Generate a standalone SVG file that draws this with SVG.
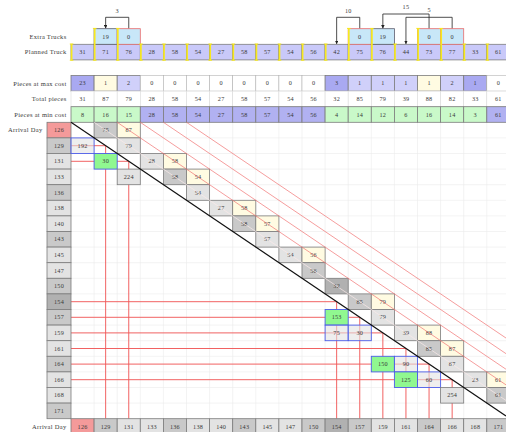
<svg xmlns="http://www.w3.org/2000/svg" width="506" height="432" viewBox="0 0 506 432">
<defs>
<marker id="ah" viewBox="0 0 6 6" refX="6" refY="3" markerWidth="3.6" markerHeight="3.6" markerUnits="userSpaceOnUse" orient="auto"><path d="M0,0 L6,3 L0,6 z" fill="#222"/></marker>
</defs>
<style>
text{font-family:"Liberation Serif","DejaVu Serif",serif;fill:#3a3a3a}
.n{font-size:6.2px;text-anchor:middle;letter-spacing:0.2px}
.lb{font-size:6.5px;text-anchor:end;letter-spacing:0.3px}
.ls{font-size:6.5px;text-anchor:start;letter-spacing:0.3px}
.c{stroke:#7c7c7c;stroke-width:0.8}
.pt{fill:#c9c9f9}
.et{fill:#c8e7f8;stroke:#5c5c6c;stroke-width:0.8}
.etr{fill:#c8e7f8;stroke:#e86a6a;stroke-width:0.8}
.w{fill:#fff;stroke:#b4b4b4;stroke-width:0.6}
.wt{fill:#fff;stroke:#dadada;stroke-width:0.6}
.pa{fill:#a9a9f1}
.pb{fill:#d0d0fa}
.cr{fill:#fffbe2}
.gn{fill:#c9f9c9}
.pp{fill:#b1b1f1}
.g1{fill:#e3e3e3}
.g2{fill:#c9c9c9}
.g3{fill:#b1b1b1}
.pk{fill:#f49a9a}
.gr{fill:#90f890}
.bx{stroke:#4c5ce8;stroke-width:0.9}
.bxg{fill:#e3e3e3;fill-opacity:0.6}
.grid line{stroke:#ebebeb;stroke-width:0.6}
.rl{fill:none;stroke:#f05a5a;stroke-width:0.95}
.ar{fill:none;stroke:#222;stroke-width:0.8}
.dl{stroke:#f07272;stroke-width:0.7}
.yb{stroke:#f7e81f;fill:none;stroke-width:1.7}
.yc{stroke:#f7e81f;fill:none;stroke-width:1}
</style>
<rect width="506" height="432" fill="#fff"/>

<g id="grid" class="grid">
<line x1="94.1" y1="122.3" x2="94.1" y2="418.7"/><line x1="117.2" y1="122.3" x2="117.2" y2="418.7"/><line x1="140.3" y1="122.3" x2="140.3" y2="418.7"/><line x1="163.4" y1="122.3" x2="163.4" y2="418.7"/><line x1="186.5" y1="122.3" x2="186.5" y2="418.7"/><line x1="209.6" y1="122.3" x2="209.6" y2="418.7"/><line x1="232.7" y1="122.3" x2="232.7" y2="418.7"/><line x1="255.8" y1="122.3" x2="255.8" y2="418.7"/><line x1="278.9" y1="122.3" x2="278.9" y2="418.7"/><line x1="302" y1="122.3" x2="302" y2="418.7"/><line x1="325.1" y1="122.3" x2="325.1" y2="418.7"/><line x1="348.2" y1="122.3" x2="348.2" y2="418.7"/><line x1="371.3" y1="122.3" x2="371.3" y2="418.7"/><line x1="394.4" y1="122.3" x2="394.4" y2="418.7"/><line x1="417.5" y1="122.3" x2="417.5" y2="418.7"/><line x1="440.6" y1="122.3" x2="440.6" y2="418.7"/><line x1="463.7" y1="122.3" x2="463.7" y2="418.7"/><line x1="486.8" y1="122.3" x2="486.8" y2="418.7"/>
<line x1="71" y1="137.9" x2="506" y2="137.9"/><line x1="71" y1="153.5" x2="506" y2="153.5"/><line x1="71" y1="169.1" x2="506" y2="169.1"/><line x1="71" y1="184.7" x2="506" y2="184.7"/><line x1="71" y1="200.3" x2="506" y2="200.3"/><line x1="71" y1="215.9" x2="506" y2="215.9"/><line x1="71" y1="231.5" x2="506" y2="231.5"/><line x1="71" y1="247.1" x2="506" y2="247.1"/><line x1="71" y1="262.7" x2="506" y2="262.7"/><line x1="71" y1="278.3" x2="506" y2="278.3"/><line x1="71" y1="293.9" x2="506" y2="293.9"/><line x1="71" y1="309.5" x2="506" y2="309.5"/><line x1="71" y1="325.1" x2="506" y2="325.1"/><line x1="71" y1="340.7" x2="506" y2="340.7"/><line x1="71" y1="356.3" x2="506" y2="356.3"/><line x1="71" y1="371.9" x2="506" y2="371.9"/><line x1="71" y1="387.5" x2="506" y2="387.5"/><line x1="71" y1="403.1" x2="506" y2="403.1"/>
</g>

<g id="labels">
<text class="lb" x="66.5" y="38.7">Extra Trucks</text>
<text class="lb" x="66.5" y="54.3">Planned Truck</text>
<text class="lb" x="66.5" y="85.5">Pieces at max cost</text>
<text class="lb" x="66.5" y="101.1">Total pieces</text>
<text class="lb" x="66.5" y="116.7">Pieces at min cost</text>
<text class="ls" x="8" y="132.3">Arrival Day</text>
<text class="lb" x="66.5" y="428.7">Arrival Day</text>
</g>

<g id="connectors">
<path class="ar" d="M128.75,28.7 V17.3 H105.65 V28.5" marker-end="url(#ah)"/>
<text class="n" x="117.2" y="12.5">3</text>
<path class="ar" d="M359.75,28.7 V17.3 H336.65 V44.1" marker-end="url(#ah)"/>
<text class="n" x="348.2" y="12.5">10</text>
<path class="ar" d="M429.05,28.7 V14 H382.85 V28.5" marker-end="url(#ah)"/>
<text class="n" x="405.9" y="9">15</text>
<path class="ar" d="M452.15,28.7 V17.3 H405.95 V44.1" marker-end="url(#ah)"/>
<text class="n" x="429.05" y="12">5</text>
<path class="rl" d="M71,145.7 H105.65 V418.7"/>
<path class="rl" d="M71,161.3 H128.75 V418.7"/>
<path class="rl" d="M71,301.7 H336.65 V418.7"/>
<path class="rl" d="M71,317.3 H359.75 V418.7"/>
<path class="rl" d="M71,332.9 H382.85 V418.7"/>
<path class="rl" d="M71,348.5 H405.95 V418.7"/>
<path class="rl" d="M71,364.1 H429.05 V418.7"/>
<path class="rl" d="M71,379.7 H452.15 V418.7"/>
</g>

<g id="planned-truck">
<g id="pt0" transform="translate(71,44.3)"><rect class="c pt" width="23.1" height="15.6"/><text class="n" x="11.55" y="9.9">31</text></g>
<g id="pt1" transform="translate(94.1,44.3)"><rect class="c pt" width="23.1" height="15.6"/><text class="n" x="11.55" y="9.9">71</text></g>
<g id="pt2" transform="translate(117.2,44.3)"><rect class="c pt" width="23.1" height="15.6"/><text class="n" x="11.55" y="9.9">76</text></g>
<g id="pt3" transform="translate(140.3,44.3)"><rect class="c pt" width="23.1" height="15.6"/><text class="n" x="11.55" y="9.9">28</text></g>
<g id="pt4" transform="translate(163.4,44.3)"><rect class="c pt" width="23.1" height="15.6"/><text class="n" x="11.55" y="9.9">58</text></g>
<g id="pt5" transform="translate(186.5,44.3)"><rect class="c pt" width="23.1" height="15.6"/><text class="n" x="11.55" y="9.9">54</text></g>
<g id="pt6" transform="translate(209.6,44.3)"><rect class="c pt" width="23.1" height="15.6"/><text class="n" x="11.55" y="9.9">27</text></g>
<g id="pt7" transform="translate(232.7,44.3)"><rect class="c pt" width="23.1" height="15.6"/><text class="n" x="11.55" y="9.9">58</text></g>
<g id="pt8" transform="translate(255.8,44.3)"><rect class="c pt" width="23.1" height="15.6"/><text class="n" x="11.55" y="9.9">57</text></g>
<g id="pt9" transform="translate(278.9,44.3)"><rect class="c pt" width="23.1" height="15.6"/><text class="n" x="11.55" y="9.9">54</text></g>
<g id="pt10" transform="translate(302,44.3)"><rect class="c pt" width="23.1" height="15.6"/><text class="n" x="11.55" y="9.9">56</text></g>
<g id="pt11" transform="translate(325.1,44.3)"><rect class="c pt" width="23.1" height="15.6"/><text class="n" x="11.55" y="9.9">42</text></g>
<g id="pt12" transform="translate(348.2,44.3)"><rect class="c pt" width="23.1" height="15.6"/><text class="n" x="11.55" y="9.9">75</text></g>
<g id="pt13" transform="translate(371.3,44.3)"><rect class="c pt" width="23.1" height="15.6"/><text class="n" x="11.55" y="9.9">76</text></g>
<g id="pt14" transform="translate(394.4,44.3)"><rect class="c pt" width="23.1" height="15.6"/><text class="n" x="11.55" y="9.9">44</text></g>
<g id="pt15" transform="translate(417.5,44.3)"><rect class="c pt" width="23.1" height="15.6"/><text class="n" x="11.55" y="9.9">73</text></g>
<g id="pt16" transform="translate(440.6,44.3)"><rect class="c pt" width="23.1" height="15.6"/><text class="n" x="11.55" y="9.9">77</text></g>
<g id="pt17" transform="translate(463.7,44.3)"><rect class="c pt" width="23.1" height="15.6"/><text class="n" x="11.55" y="9.9">33</text></g>
<g id="pt18" transform="translate(486.8,44.3)"><rect class="c pt" width="23.1" height="15.6"/><text class="n" x="11.55" y="9.9">61</text></g>
</g>

<g id="extra-trucks">
<g id="et1" transform="translate(94.1,28.7)"><rect class="et" width="23.1" height="15.6"/><text class="n" x="11.55" y="9.9">19</text></g>
<g id="et2" transform="translate(117.2,28.7)"><rect class="etr" width="23.1" height="15.6"/><text class="n" x="11.55" y="9.9">0</text></g>
<g id="et12" transform="translate(348.2,28.7)"><rect class="etr" width="23.1" height="15.6"/><text class="n" x="11.55" y="9.9">0</text></g>
<g id="et13" transform="translate(371.3,28.7)"><rect class="et" width="23.1" height="15.6"/><text class="n" x="11.55" y="9.9">19</text></g>
<g id="et15" transform="translate(417.5,28.7)"><rect class="etr" width="23.1" height="15.6"/><text class="n" x="11.55" y="9.9">0</text></g>
<g id="et16" transform="translate(440.6,28.7)"><rect class="etr" width="23.1" height="15.6"/><text class="n" x="11.55" y="9.9">0</text></g>
</g>

<g id="truck-bars">
<path class="yb" d="M71.6,44 V60.2 M94.7,28.4 V60.2 M117.8,28.4 V60.2 M140.9,44 V60.2 M164,44 V60.2 M187.1,44 V60.2 M210.2,44 V60.2 M233.3,44 V60.2 M256.4,44 V60.2 M279.5,44 V60.2 M302.6,44 V60.2 M325.7,44 V60.2 M348.8,28.4 V60.2 M371.9,28.4 V60.2 M395,44 V60.2 M418.1,28.4 V60.2 M441.2,28.4 V60.2 M464.3,44 V60.2 M487.4,44 V60.2"/>
<path class="yc" d="M69.8,44 h3.6 M69.8,60.2 h3.6 M92.9,28.4 h3.6 M92.9,60.2 h3.6 M116,28.4 h3.6 M116,60.2 h3.6 M139.1,44 h3.6 M139.1,60.2 h3.6 M162.2,44 h3.6 M162.2,60.2 h3.6 M185.3,44 h3.6 M185.3,60.2 h3.6 M208.4,44 h3.6 M208.4,60.2 h3.6 M231.5,44 h3.6 M231.5,60.2 h3.6 M254.6,44 h3.6 M254.6,60.2 h3.6 M277.7,44 h3.6 M277.7,60.2 h3.6 M300.8,44 h3.6 M300.8,60.2 h3.6 M323.9,44 h3.6 M323.9,60.2 h3.6 M347,28.4 h3.6 M347,60.2 h3.6 M370.1,28.4 h3.6 M370.1,60.2 h3.6 M393.2,44 h3.6 M393.2,60.2 h3.6 M416.3,28.4 h3.6 M416.3,60.2 h3.6 M439.4,28.4 h3.6 M439.4,60.2 h3.6 M462.5,44 h3.6 M462.5,60.2 h3.6 M485.6,44 h3.6 M485.6,60.2 h3.6"/>
</g>

<g id="pieces-max">
<g id="mx0" transform="translate(71,75.5)"><rect class="c pa" width="23.1" height="15.6"/><text class="n" x="11.55" y="9.9">23</text></g>
<g id="mx1" transform="translate(94.1,75.5)"><rect class="c cr" width="23.1" height="15.6"/><text class="n" x="11.55" y="9.9">1</text></g>
<g id="mx2" transform="translate(117.2,75.5)"><rect class="c pb" width="23.1" height="15.6"/><text class="n" x="11.55" y="9.9">2</text></g>
<g id="mx3" transform="translate(140.3,75.5)"><rect class="w" width="23.1" height="15.6"/><text class="n" x="11.55" y="9.9">0</text></g>
<g id="mx4" transform="translate(163.4,75.5)"><rect class="w" width="23.1" height="15.6"/><text class="n" x="11.55" y="9.9">0</text></g>
<g id="mx5" transform="translate(186.5,75.5)"><rect class="w" width="23.1" height="15.6"/><text class="n" x="11.55" y="9.9">0</text></g>
<g id="mx6" transform="translate(209.6,75.5)"><rect class="w" width="23.1" height="15.6"/><text class="n" x="11.55" y="9.9">0</text></g>
<g id="mx7" transform="translate(232.7,75.5)"><rect class="w" width="23.1" height="15.6"/><text class="n" x="11.55" y="9.9">0</text></g>
<g id="mx8" transform="translate(255.8,75.5)"><rect class="w" width="23.1" height="15.6"/><text class="n" x="11.55" y="9.9">0</text></g>
<g id="mx9" transform="translate(278.9,75.5)"><rect class="w" width="23.1" height="15.6"/><text class="n" x="11.55" y="9.9">0</text></g>
<g id="mx10" transform="translate(302,75.5)"><rect class="w" width="23.1" height="15.6"/><text class="n" x="11.55" y="9.9">0</text></g>
<g id="mx11" transform="translate(325.1,75.5)"><rect class="c pa" width="23.1" height="15.6"/><text class="n" x="11.55" y="9.9">3</text></g>
<g id="mx12" transform="translate(348.2,75.5)"><rect class="c pb" width="23.1" height="15.6"/><text class="n" x="11.55" y="9.9">1</text></g>
<g id="mx13" transform="translate(371.3,75.5)"><rect class="c pb" width="23.1" height="15.6"/><text class="n" x="11.55" y="9.9">1</text></g>
<g id="mx14" transform="translate(394.4,75.5)"><rect class="c pb" width="23.1" height="15.6"/><text class="n" x="11.55" y="9.9">1</text></g>
<g id="mx15" transform="translate(417.5,75.5)"><rect class="c cr" width="23.1" height="15.6"/><text class="n" x="11.55" y="9.9">1</text></g>
<g id="mx16" transform="translate(440.6,75.5)"><rect class="c pb" width="23.1" height="15.6"/><text class="n" x="11.55" y="9.9">2</text></g>
<g id="mx17" transform="translate(463.7,75.5)"><rect class="c pa" width="23.1" height="15.6"/><text class="n" x="11.55" y="9.9">1</text></g>
<g id="mx18" transform="translate(486.8,75.5)"><rect class="w" width="23.1" height="15.6"/><text class="n" x="11.55" y="9.9">0</text></g>
</g>

<g id="pieces-total">
<g id="tp0" transform="translate(71,91.1)"><rect class="wt" width="23.1" height="15.6"/><text class="n" x="11.55" y="9.9">31</text></g>
<g id="tp1" transform="translate(94.1,91.1)"><rect class="wt" width="23.1" height="15.6"/><text class="n" x="11.55" y="9.9">87</text></g>
<g id="tp2" transform="translate(117.2,91.1)"><rect class="wt" width="23.1" height="15.6"/><text class="n" x="11.55" y="9.9">79</text></g>
<g id="tp3" transform="translate(140.3,91.1)"><rect class="wt" width="23.1" height="15.6"/><text class="n" x="11.55" y="9.9">28</text></g>
<g id="tp4" transform="translate(163.4,91.1)"><rect class="wt" width="23.1" height="15.6"/><text class="n" x="11.55" y="9.9">58</text></g>
<g id="tp5" transform="translate(186.5,91.1)"><rect class="wt" width="23.1" height="15.6"/><text class="n" x="11.55" y="9.9">54</text></g>
<g id="tp6" transform="translate(209.6,91.1)"><rect class="wt" width="23.1" height="15.6"/><text class="n" x="11.55" y="9.9">27</text></g>
<g id="tp7" transform="translate(232.7,91.1)"><rect class="wt" width="23.1" height="15.6"/><text class="n" x="11.55" y="9.9">58</text></g>
<g id="tp8" transform="translate(255.8,91.1)"><rect class="wt" width="23.1" height="15.6"/><text class="n" x="11.55" y="9.9">57</text></g>
<g id="tp9" transform="translate(278.9,91.1)"><rect class="wt" width="23.1" height="15.6"/><text class="n" x="11.55" y="9.9">54</text></g>
<g id="tp10" transform="translate(302,91.1)"><rect class="wt" width="23.1" height="15.6"/><text class="n" x="11.55" y="9.9">56</text></g>
<g id="tp11" transform="translate(325.1,91.1)"><rect class="wt" width="23.1" height="15.6"/><text class="n" x="11.55" y="9.9">32</text></g>
<g id="tp12" transform="translate(348.2,91.1)"><rect class="wt" width="23.1" height="15.6"/><text class="n" x="11.55" y="9.9">85</text></g>
<g id="tp13" transform="translate(371.3,91.1)"><rect class="wt" width="23.1" height="15.6"/><text class="n" x="11.55" y="9.9">79</text></g>
<g id="tp14" transform="translate(394.4,91.1)"><rect class="wt" width="23.1" height="15.6"/><text class="n" x="11.55" y="9.9">39</text></g>
<g id="tp15" transform="translate(417.5,91.1)"><rect class="wt" width="23.1" height="15.6"/><text class="n" x="11.55" y="9.9">88</text></g>
<g id="tp16" transform="translate(440.6,91.1)"><rect class="wt" width="23.1" height="15.6"/><text class="n" x="11.55" y="9.9">82</text></g>
<g id="tp17" transform="translate(463.7,91.1)"><rect class="wt" width="23.1" height="15.6"/><text class="n" x="11.55" y="9.9">33</text></g>
<g id="tp18" transform="translate(486.8,91.1)"><rect class="wt" width="23.1" height="15.6"/><text class="n" x="11.55" y="9.9">61</text></g>
</g>

<g id="pieces-min">
<g id="mn0" transform="translate(71,106.7)"><rect class="c gn" width="23.1" height="15.6"/><text class="n" x="11.55" y="9.9">8</text></g>
<g id="mn1" transform="translate(94.1,106.7)"><rect class="c gn" width="23.1" height="15.6"/><text class="n" x="11.55" y="9.9">16</text></g>
<g id="mn2" transform="translate(117.2,106.7)"><rect class="c gn" width="23.1" height="15.6"/><text class="n" x="11.55" y="9.9">15</text></g>
<g id="mn3" transform="translate(140.3,106.7)"><rect class="c pp" width="23.1" height="15.6"/><text class="n" x="11.55" y="9.9">28</text></g>
<g id="mn4" transform="translate(163.4,106.7)"><rect class="c pp" width="23.1" height="15.6"/><text class="n" x="11.55" y="9.9">58</text></g>
<g id="mn5" transform="translate(186.5,106.7)"><rect class="c pp" width="23.1" height="15.6"/><text class="n" x="11.55" y="9.9">54</text></g>
<g id="mn6" transform="translate(209.6,106.7)"><rect class="c pp" width="23.1" height="15.6"/><text class="n" x="11.55" y="9.9">27</text></g>
<g id="mn7" transform="translate(232.7,106.7)"><rect class="c pp" width="23.1" height="15.6"/><text class="n" x="11.55" y="9.9">58</text></g>
<g id="mn8" transform="translate(255.8,106.7)"><rect class="c pp" width="23.1" height="15.6"/><text class="n" x="11.55" y="9.9">57</text></g>
<g id="mn9" transform="translate(278.9,106.7)"><rect class="c pp" width="23.1" height="15.6"/><text class="n" x="11.55" y="9.9">54</text></g>
<g id="mn10" transform="translate(302,106.7)"><rect class="c pp" width="23.1" height="15.6"/><text class="n" x="11.55" y="9.9">56</text></g>
<g id="mn11" transform="translate(325.1,106.7)"><rect class="c gn" width="23.1" height="15.6"/><text class="n" x="11.55" y="9.9">4</text></g>
<g id="mn12" transform="translate(348.2,106.7)"><rect class="c gn" width="23.1" height="15.6"/><text class="n" x="11.55" y="9.9">14</text></g>
<g id="mn13" transform="translate(371.3,106.7)"><rect class="c gn" width="23.1" height="15.6"/><text class="n" x="11.55" y="9.9">12</text></g>
<g id="mn14" transform="translate(394.4,106.7)"><rect class="c gn" width="23.1" height="15.6"/><text class="n" x="11.55" y="9.9">6</text></g>
<g id="mn15" transform="translate(417.5,106.7)"><rect class="c gn" width="23.1" height="15.6"/><text class="n" x="11.55" y="9.9">16</text></g>
<g id="mn16" transform="translate(440.6,106.7)"><rect class="c gn" width="23.1" height="15.6"/><text class="n" x="11.55" y="9.9">14</text></g>
<g id="mn17" transform="translate(463.7,106.7)"><rect class="c gn" width="23.1" height="15.6"/><text class="n" x="11.55" y="9.9">3</text></g>
<g id="mn18" transform="translate(486.8,106.7)"><rect class="c pp" width="23.1" height="15.6"/><text class="n" x="11.55" y="9.9">61</text></g>
</g>

<g id="row-days">
<g id="rd126" transform="translate(47,122.3)"><rect class="c pk" width="24" height="15.6"/><text class="n" x="12" y="9.9">126</text></g>
<g id="rd129" transform="translate(47,137.9)"><rect class="c g2" width="24" height="15.6"/><text class="n" x="12" y="9.9">129</text></g>
<g id="rd131" transform="translate(47,153.5)"><rect class="c g1" width="24" height="15.6"/><text class="n" x="12" y="9.9">131</text></g>
<g id="rd133" transform="translate(47,169.1)"><rect class="c g1" width="24" height="15.6"/><text class="n" x="12" y="9.9">133</text></g>
<g id="rd136" transform="translate(47,184.7)"><rect class="c g2" width="24" height="15.6"/><text class="n" x="12" y="9.9">136</text></g>
<g id="rd138" transform="translate(47,200.3)"><rect class="c g1" width="24" height="15.6"/><text class="n" x="12" y="9.9">138</text></g>
<g id="rd140" transform="translate(47,215.9)"><rect class="c g1" width="24" height="15.6"/><text class="n" x="12" y="9.9">140</text></g>
<g id="rd143" transform="translate(47,231.5)"><rect class="c g2" width="24" height="15.6"/><text class="n" x="12" y="9.9">143</text></g>
<g id="rd145" transform="translate(47,247.1)"><rect class="c g1" width="24" height="15.6"/><text class="n" x="12" y="9.9">145</text></g>
<g id="rd147" transform="translate(47,262.7)"><rect class="c g1" width="24" height="15.6"/><text class="n" x="12" y="9.9">147</text></g>
<g id="rd150" transform="translate(47,278.3)"><rect class="c g2" width="24" height="15.6"/><text class="n" x="12" y="9.9">150</text></g>
<g id="rd154" transform="translate(47,293.9)"><rect class="c g3" width="24" height="15.6"/><text class="n" x="12" y="9.9">154</text></g>
<g id="rd157" transform="translate(47,309.5)"><rect class="c g2" width="24" height="15.6"/><text class="n" x="12" y="9.9">157</text></g>
<g id="rd159" transform="translate(47,325.1)"><rect class="c g1" width="24" height="15.6"/><text class="n" x="12" y="9.9">159</text></g>
<g id="rd161" transform="translate(47,340.7)"><rect class="c g1" width="24" height="15.6"/><text class="n" x="12" y="9.9">161</text></g>
<g id="rd164" transform="translate(47,356.3)"><rect class="c g2" width="24" height="15.6"/><text class="n" x="12" y="9.9">164</text></g>
<g id="rd166" transform="translate(47,371.9)"><rect class="c g1" width="24" height="15.6"/><text class="n" x="12" y="9.9">166</text></g>
<g id="rd168" transform="translate(47,387.5)"><rect class="c g1" width="24" height="15.6"/><text class="n" x="12" y="9.9">168</text></g>
<g id="rd171" transform="translate(47,403.1)"><rect class="c g2" width="24" height="15.6"/><text class="n" x="12" y="9.9">171</text></g>
</g>

<g id="col-days">
<g id="cd126" transform="translate(71,418.7)"><rect class="c pk" width="23.1" height="15.6"/><text class="n" x="11.55" y="9.9">126</text></g>
<g id="cd129" transform="translate(94.1,418.7)"><rect class="c g2" width="23.1" height="15.6"/><text class="n" x="11.55" y="9.9">129</text></g>
<g id="cd131" transform="translate(117.2,418.7)"><rect class="c g1" width="23.1" height="15.6"/><text class="n" x="11.55" y="9.9">131</text></g>
<g id="cd133" transform="translate(140.3,418.7)"><rect class="c g1" width="23.1" height="15.6"/><text class="n" x="11.55" y="9.9">133</text></g>
<g id="cd136" transform="translate(163.4,418.7)"><rect class="c g2" width="23.1" height="15.6"/><text class="n" x="11.55" y="9.9">136</text></g>
<g id="cd138" transform="translate(186.5,418.7)"><rect class="c g1" width="23.1" height="15.6"/><text class="n" x="11.55" y="9.9">138</text></g>
<g id="cd140" transform="translate(209.6,418.7)"><rect class="c g1" width="23.1" height="15.6"/><text class="n" x="11.55" y="9.9">140</text></g>
<g id="cd143" transform="translate(232.7,418.7)"><rect class="c g2" width="23.1" height="15.6"/><text class="n" x="11.55" y="9.9">143</text></g>
<g id="cd145" transform="translate(255.8,418.7)"><rect class="c g1" width="23.1" height="15.6"/><text class="n" x="11.55" y="9.9">145</text></g>
<g id="cd147" transform="translate(278.9,418.7)"><rect class="c g1" width="23.1" height="15.6"/><text class="n" x="11.55" y="9.9">147</text></g>
<g id="cd150" transform="translate(302,418.7)"><rect class="c g2" width="23.1" height="15.6"/><text class="n" x="11.55" y="9.9">150</text></g>
<g id="cd154" transform="translate(325.1,418.7)"><rect class="c g3" width="23.1" height="15.6"/><text class="n" x="11.55" y="9.9">154</text></g>
<g id="cd157" transform="translate(348.2,418.7)"><rect class="c g2" width="23.1" height="15.6"/><text class="n" x="11.55" y="9.9">157</text></g>
<g id="cd159" transform="translate(371.3,418.7)"><rect class="c g1" width="23.1" height="15.6"/><text class="n" x="11.55" y="9.9">159</text></g>
<g id="cd161" transform="translate(394.4,418.7)"><rect class="c g1" width="23.1" height="15.6"/><text class="n" x="11.55" y="9.9">161</text></g>
<g id="cd164" transform="translate(417.5,418.7)"><rect class="c g2" width="23.1" height="15.6"/><text class="n" x="11.55" y="9.9">164</text></g>
<g id="cd166" transform="translate(440.6,418.7)"><rect class="c g1" width="23.1" height="15.6"/><text class="n" x="11.55" y="9.9">166</text></g>
<g id="cd168" transform="translate(463.7,418.7)"><rect class="c g1" width="23.1" height="15.6"/><text class="n" x="11.55" y="9.9">168</text></g>
<g id="cd171" transform="translate(486.8,418.7)"><rect class="c g2" width="23.1" height="15.6"/><text class="n" x="11.55" y="9.9">171</text></g>
</g>

<g id="matrix">
<g id="m0-1" transform="translate(94.1,122.3)"><rect class="c g2" width="23.1" height="15.6"/><text class="n" x="11.55" y="9.9">75</text></g>
<g id="m0-2" transform="translate(117.2,122.3)"><rect class="c cr" width="23.1" height="15.6"/><text class="n" x="11.55" y="9.9">87</text></g>
<g id="m1-0" transform="translate(71,137.9)"><rect class="c bx bxg" width="23.1" height="15.6"/><text class="n" x="11.55" y="9.9">192</text></g>
<g id="m1-2" transform="translate(117.2,137.9)"><rect class="c g1" width="23.1" height="15.6"/><text class="n" x="11.55" y="9.9">79</text></g>
<g id="m2-1" transform="translate(94.1,153.5)"><rect class="c bx gr" width="23.1" height="15.6"/><text class="n" x="11.55" y="9.9">30</text></g>
<g id="m2-3" transform="translate(140.3,153.5)"><rect class="c g1" width="23.1" height="15.6"/><text class="n" x="11.55" y="9.9">28</text></g>
<g id="m2-4" transform="translate(163.4,153.5)"><rect class="c cr" width="23.1" height="15.6"/><text class="n" x="11.55" y="9.9">58</text></g>
<g id="m3-2" transform="translate(117.2,169.1)"><rect class="c g1" width="23.1" height="15.6"/><text class="n" x="11.55" y="9.9">224</text></g>
<g id="m3-4" transform="translate(163.4,169.1)"><rect class="c g2" width="23.1" height="15.6"/><text class="n" x="11.55" y="9.9">58</text></g>
<g id="m3-5" transform="translate(186.5,169.1)"><rect class="c cr" width="23.1" height="15.6"/><text class="n" x="11.55" y="9.9">54</text></g>
<g id="m4-5" transform="translate(186.5,184.7)"><rect class="c g1" width="23.1" height="15.6"/><text class="n" x="11.55" y="9.9">54</text></g>
<g id="m5-6" transform="translate(209.6,200.3)"><rect class="c g1" width="23.1" height="15.6"/><text class="n" x="11.55" y="9.9">27</text></g>
<g id="m5-7" transform="translate(232.7,200.3)"><rect class="c cr" width="23.1" height="15.6"/><text class="n" x="11.55" y="9.9">58</text></g>
<g id="m6-7" transform="translate(232.7,215.9)"><rect class="c g2" width="23.1" height="15.6"/><text class="n" x="11.55" y="9.9">58</text></g>
<g id="m6-8" transform="translate(255.8,215.9)"><rect class="c cr" width="23.1" height="15.6"/><text class="n" x="11.55" y="9.9">57</text></g>
<g id="m7-8" transform="translate(255.8,231.5)"><rect class="c g1" width="23.1" height="15.6"/><text class="n" x="11.55" y="9.9">57</text></g>
<g id="m8-9" transform="translate(278.9,247.1)"><rect class="c g1" width="23.1" height="15.6"/><text class="n" x="11.55" y="9.9">54</text></g>
<g id="m8-10" transform="translate(302,247.1)"><rect class="c cr" width="23.1" height="15.6"/><text class="n" x="11.55" y="9.9">56</text></g>
<g id="m9-10" transform="translate(302,262.7)"><rect class="c g2" width="23.1" height="15.6"/><text class="n" x="11.55" y="9.9">56</text></g>
<g id="m10-11" transform="translate(325.1,278.3)"><rect class="c g3" width="23.1" height="15.6"/><text class="n" x="11.55" y="9.9">32</text></g>
<g id="m11-12" transform="translate(348.2,293.9)"><rect class="c g2" width="23.1" height="15.6"/><text class="n" x="11.55" y="9.9">85</text></g>
<g id="m11-13" transform="translate(371.3,293.9)"><rect class="c cr" width="23.1" height="15.6"/><text class="n" x="11.55" y="9.9">79</text></g>
<g id="m12-11" transform="translate(325.1,309.5)"><rect class="c bx gr" width="23.1" height="15.6"/><text class="n" x="11.55" y="9.9">153</text></g>
<g id="m12-13" transform="translate(371.3,309.5)"><rect class="c g1" width="23.1" height="15.6"/><text class="n" x="11.55" y="9.9">79</text></g>
<g id="m13-11" transform="translate(325.1,325.1)"><rect class="c bx bxg" width="23.1" height="15.6"/><text class="n" x="11.55" y="9.9">75</text></g>
<g id="m13-12" transform="translate(348.2,325.1)"><rect class="c bx bxg" width="23.1" height="15.6"/><text class="n" x="11.55" y="9.9">30</text></g>
<g id="m13-14" transform="translate(394.4,325.1)"><rect class="c g1" width="23.1" height="15.6"/><text class="n" x="11.55" y="9.9">39</text></g>
<g id="m13-15" transform="translate(417.5,325.1)"><rect class="c cr" width="23.1" height="15.6"/><text class="n" x="11.55" y="9.9">88</text></g>
<g id="m14-15" transform="translate(417.5,340.7)"><rect class="c g2" width="23.1" height="15.6"/><text class="n" x="11.55" y="9.9">85</text></g>
<g id="m14-16" transform="translate(440.6,340.7)"><rect class="c cr" width="23.1" height="15.6"/><text class="n" x="11.55" y="9.9">87</text></g>
<g id="m15-13" transform="translate(371.3,356.3)"><rect class="c bx gr" width="23.1" height="15.6"/><text class="n" x="11.55" y="9.9">150</text></g>
<g id="m15-14" transform="translate(394.4,356.3)"><rect class="c bx bxg" width="23.1" height="15.6"/><text class="n" x="11.55" y="9.9">90</text></g>
<g id="m15-16" transform="translate(440.6,356.3)"><rect class="c g1" width="23.1" height="15.6"/><text class="n" x="11.55" y="9.9">87</text></g>
<g id="m16-14" transform="translate(394.4,371.9)"><rect class="c bx gr" width="23.1" height="15.6"/><text class="n" x="11.55" y="9.9">125</text></g>
<g id="m16-15" transform="translate(417.5,371.9)"><rect class="c bx bxg" width="23.1" height="15.6"/><text class="n" x="11.55" y="9.9">60</text></g>
<g id="m16-17" transform="translate(463.7,371.9)"><rect class="c g1" width="23.1" height="15.6"/><text class="n" x="11.55" y="9.9">23</text></g>
<g id="m16-18" transform="translate(486.8,371.9)"><rect class="c cr" width="23.1" height="15.6"/><text class="n" x="11.55" y="9.9">61</text></g>
<g id="m17-16" transform="translate(440.6,387.5)"><rect class="c g1" width="23.1" height="15.6"/><text class="n" x="11.55" y="9.9">254</text></g>
<g id="m17-18" transform="translate(486.8,387.5)"><rect class="c g2" width="23.1" height="15.6"/><text class="n" x="11.55" y="9.9">61</text></g>
</g>

<g id="diagonals">
<line x1="94.1" y1="122.3" x2="506" y2="400.46" stroke="#fbeaea" stroke-width="0.7"/>
<line class="dl" x1="117.2" y1="122.3" x2="506" y2="384.87"/>
<line class="dl" x1="140.3" y1="122.3" x2="506" y2="369.26"/>
<line class="dl" x1="163.4" y1="122.3" x2="506" y2="353.66"/>
<line class="dl" x1="186.5" y1="122.3" x2="506" y2="338.06"/>
<line x1="71" y1="122.3" x2="506" y2="416.06" stroke="#111" stroke-width="1.2"/>
</g>
</svg>
